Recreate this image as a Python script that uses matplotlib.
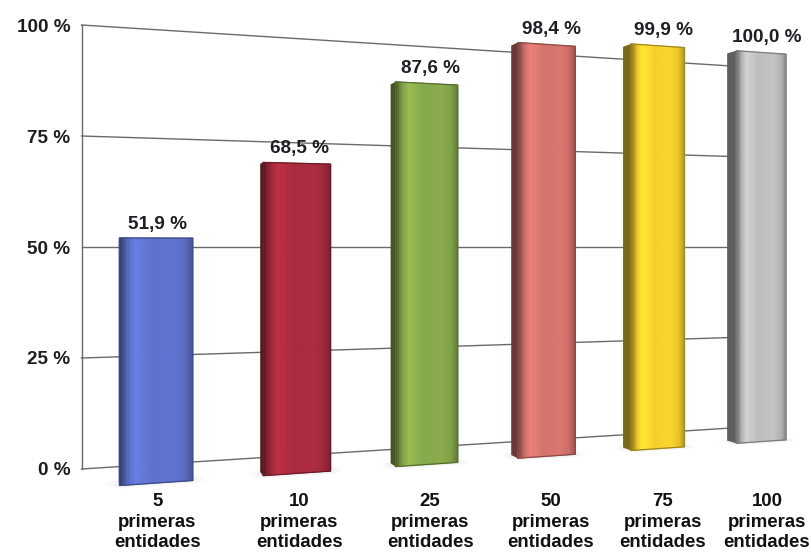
import numpy as np
import matplotlib
matplotlib.use("Agg")
import matplotlib.pyplot as plt
import matplotlib.transforms as mtransforms
from matplotlib.colors import to_rgb

categorias = ["5", "10", "25", "50", "75", "100"]
porcentajes = [51.9, 68.5, 87.6, 98.4, 99.9, 100.0]
colores = ["#5d71cc", "#a82a3e", "#86a84a", "#d4726c", "#f4cf2c", "#bdbdbd"]
marcas = [0, 25, 50, 75, 100]

FUENTE = ["Liberation Sans", "DejaVu Sans"]
TAM = 13.6

# camara en perspectiva: X = posicion de categoria, Y = porcentaje, Z = profundidad
AX, AZ, B = 153.4, 6.88, 156.5
CX, CZ = 0.0426, 0.0844
K, YH = 4.72, 247.0
ANCHO = 0.5      # ancho de la barra en unidades de categoria
FONDO = 0.2      # profundidad de la barra
PARED = 1.0      # profundidad de la pared con la rejilla
TEXTO_Z = -0.12  # plano de los rotulos


def proyectar(X, Y, Z):
    w = 1 + CX * X + CZ * Z
    return (AX * X + AZ * Z + B) / w, YH + (50 - Y) * K / w


class Camara(mtransforms.Transform):
    input_dims = 2
    output_dims = 2
    is_separable = False
    has_inverse = False

    def __init__(self, plano, fijo):
        super().__init__()
        self.plano = plano
        self.fijo = fijo

    def transform_non_affine(self, values):
        values = np.asarray(values, dtype=float)
        a, b = values[:, 0], values[:, 1]
        c = np.full_like(a, self.fijo)
        if self.plano == "frente":
            X, Y, Z = a, b, c
        elif self.plano == "lado":
            X, Y, Z = c, b, a
        else:
            X, Y, Z = a, c, b
        sx, sy = proyectar(X, Y, Z)
        return np.column_stack([sx, sy])


def tono(color, f):
    return tuple(np.clip(np.array(to_rgb(color)) * f, 0, 1))


fig = plt.figure(figsize=(8.11, 5.53), dpi=100)
ax = fig.add_axes([0, 0, 1, 1])

pared = Camara("frente", PARED) + ax.transData
frente = Camara("frente", 0.0) + ax.transData
rotulos = Camara("frente", TEXTO_Z) + ax.transData
suelo = Camara("suelo", 0.0) + ax.transData

# rejilla y eje vertical sobre la pared del fondo
for v in marcas:
    ax.plot([-0.5, len(categorias) - 0.5], [v, v], transform=pared,
            color="#6a6a6a", lw=1.0, zorder=1)
    ax.text(-0.5, v, f"{v} %", transform=mtransforms.offset_copy(pared, fig, x=-11, y=0, units="dots"),
            ha="right", va="center_baseline", fontsize=TAM, fontweight="bold",
            family=FUENTE, color="#1e1e1e")
ax.plot([-0.5, -0.5], [0, 100], transform=pared, color="#6a6a6a", lw=1.0, zorder=1)

# perfil de brillo a lo ancho de la cara frontal
perfil_t = [0, 0.05, 0.12, 0.22, 0.45, 0.75, 0.9, 1.0]
perfil_f = [0.5, 0.68, 0.95, 1.12, 1.0, 1.03, 0.95, 0.74]
n = 30
t = (np.arange(n) + 0.5) / n

for i, (valor, col) in enumerate(zip(porcentajes, colores)):
    # sombra suave en el suelo
    for k in range(4):
        m = 0.03 * k
        ax.bar(i - ANCHO / 2 - m, FONDO + 0.2 - m, width=ANCHO + 2 * m, bottom=-0.15 + m,
               align="edge", transform=suelo, color="#a0a0a0", alpha=0.035,
               linewidth=0, zorder=2)

    # cara lateral izquierda
    lado = Camara("lado", i - ANCHO / 2) + ax.transData
    ax.bar(0, valor, width=FONDO, align="edge", transform=lado,
           color=tono(col, 0.5), linewidth=0, zorder=3)

    # cara frontal con degradado horizontal
    f = np.interp(t, perfil_t, perfil_f)
    tiras = [tono(col, x) for x in f]
    izq = i - ANCHO / 2 + np.arange(n) * ANCHO / n
    ax.bar(izq, [valor] * n, width=ANCHO / n, align="edge", transform=frente,
           color=tiras, edgecolor=tiras, linewidth=0.6, zorder=4)
    ax.bar(i, valor, width=ANCHO, transform=frente, fill=False,
           edgecolor=tono(col, 0.65), linewidth=0.9, joinstyle="round", zorder=5)

    ax.text(i, valor, f"{valor:.1f} %".replace(".", ","),
            transform=mtransforms.offset_copy(rotulos, fig, x=0, y=15.5, units="dots"),
            ha="center", va="center_baseline", fontsize=TAM, fontweight="bold",
            family=FUENTE, color="#1e1e24", zorder=6)

# rotulos de categoria, alineados en horizontal bajo cada barra
abajo = mtransforms.blended_transform_factory(rotulos, ax.transData)
for i, cat in enumerate(categorias):
    ax.text(i, 493, f"{cat}\nprimeras\nentidades", transform=abajo,
            ha="center", va="top", fontsize=13.4, fontweight="bold",
            family=FUENTE, color="#111111", linespacing=1.28)

ax.set_xlim(0, 811)
ax.set_ylim(553, 0)
ax.axis("off")

fig.savefig("out.png", dpi=100)
